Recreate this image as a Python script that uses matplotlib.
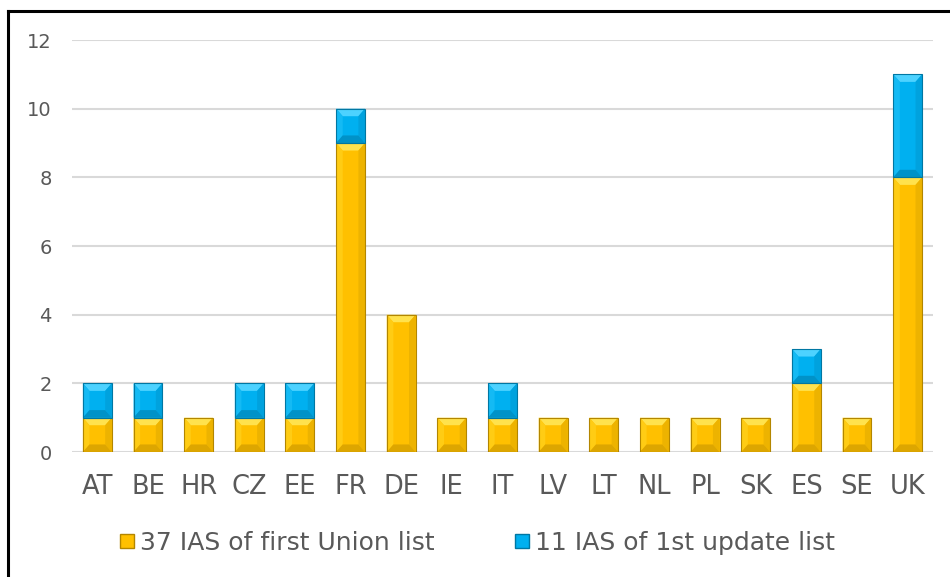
import matplotlib.pyplot as plt
from matplotlib.patches import Polygon, Rectangle
from matplotlib.lines import Line2D

# data
countries = ["AT", "BE", "HR", "CZ", "EE", "FR", "DE", "IE", "IT", "LV",
             "LT", "NL", "PL", "SK", "ES", "SE", "UK"]
first_list = [1, 1, 1, 1, 1, 9, 4, 1, 1, 1, 1, 1, 1, 1, 2, 1, 8]
update_list = [1, 1, 0, 1, 1, 1, 0, 0, 1, 0, 0, 0, 0, 0, 1, 0, 3]
series_names = ["37 IAS of first Union list", "11 IAS of 1st update list"]

YELLOW = dict(face="#FFC000", top="#FFE24D", left="#FFCC14", right="#EDB300",
              bottom="#DDA600", edge="#B38600")
BLUE = dict(face="#00B0F0", top="#4DD2FF", left="#14BAF4", right="#00A2DE",
            bottom="#0092C8", edge="#0077A3")
TEXT = "#595959"

plt.rcParams['font.family'] = ['DejaVu Sans']

fig = plt.figure(figsize=(9.5, 5.77), dpi=100)
ax = fig.add_axes([72 / 950, 1 - 452 / 577, 861 / 950, 412 / 577])

bar_w = 0.57
dx = 0.13   # bevel depth in category units
dy = 0.22   # bevel depth in data units


def bevel_bar(x, y0, h, c):
    if h <= 0:
        return
    x0, x1 = x - bar_w / 2, x + bar_w / 2
    y1 = y0 + h
    ax.add_patch(Rectangle((x0, y0), bar_w, h, facecolor=c["face"],
                           edgecolor="none", zorder=3))
    parts = [
        ([(x0, y1), (x1, y1), (x1 - dx, y1 - dy), (x0 + dx, y1 - dy)], c["top"]),
        ([(x0, y0), (x0, y1), (x0 + dx, y1 - dy), (x0 + dx, y0 + dy)], c["left"]),
        ([(x1, y0), (x1, y1), (x1 - dx, y1 - dy), (x1 - dx, y0 + dy)], c["right"]),
        ([(x0, y0), (x1, y0), (x1 - dx, y0 + dy), (x0 + dx, y0 + dy)], c["bottom"]),
    ]
    for pts, col in parts:
        ax.add_patch(Polygon(pts, closed=True, facecolor=col, edgecolor="none",
                             zorder=3))
    ax.add_patch(Rectangle((x0, y0), bar_w, h, facecolor="none",
                           edgecolor=c["edge"], linewidth=0.8, zorder=4))


for i, (a, b) in enumerate(zip(first_list, update_list)):
    bevel_bar(i, 0, a, YELLOW)
    bevel_bar(i, a, b, BLUE)

ax.set_xlim(-0.5, len(countries) - 0.5)
ax.set_ylim(0, 12)
ax.set_yticks(range(0, 13, 2))
ax.set_xticks(range(len(countries)))
ax.set_xticklabels(countries)
ax.yaxis.grid(True, color="#D9D9D9", linewidth=1.5, zorder=0)
ax.set_axisbelow(True)
for s in ax.spines.values():
    s.set_visible(False)
ax.tick_params(axis="both", length=0, colors=TEXT)
ax.tick_params(axis="x", labelsize=18.5, pad=16)
ax.tick_params(axis="y", labelsize=14, pad=14.5)

handles = [Line2D([], [], marker="s", linestyle="none", markersize=10,
                  markerfacecolor=YELLOW["face"], markeredgecolor=YELLOW["edge"]),
           Line2D([], [], marker="s", linestyle="none", markersize=10,
                  markerfacecolor=BLUE["face"], markeredgecolor=BLUE["edge"])]
leg = fig.legend(handles, series_names, loc="center", ncol=2, frameon=False,
                 bbox_to_anchor=(476 / 950, 1 - 543 / 577), fontsize=18,
                 handletextpad=0.1, columnspacing=3.1, handlelength=0.8)
for t in leg.get_texts():
    t.set_color(TEXT)

# chart frame (left and top edges visible)
fig.add_artist(Line2D([7.5 / 950, 7.5 / 950], [0, 1 - 10.5 / 577],
                      color="black", linewidth=2.2, transform=fig.transFigure))
fig.add_artist(Line2D([7.5 / 950, 1], [1 - 10.5 / 577, 1 - 10.5 / 577],
                      color="black", linewidth=2.2, transform=fig.transFigure))

fig.savefig("out.png", dpi=100)
